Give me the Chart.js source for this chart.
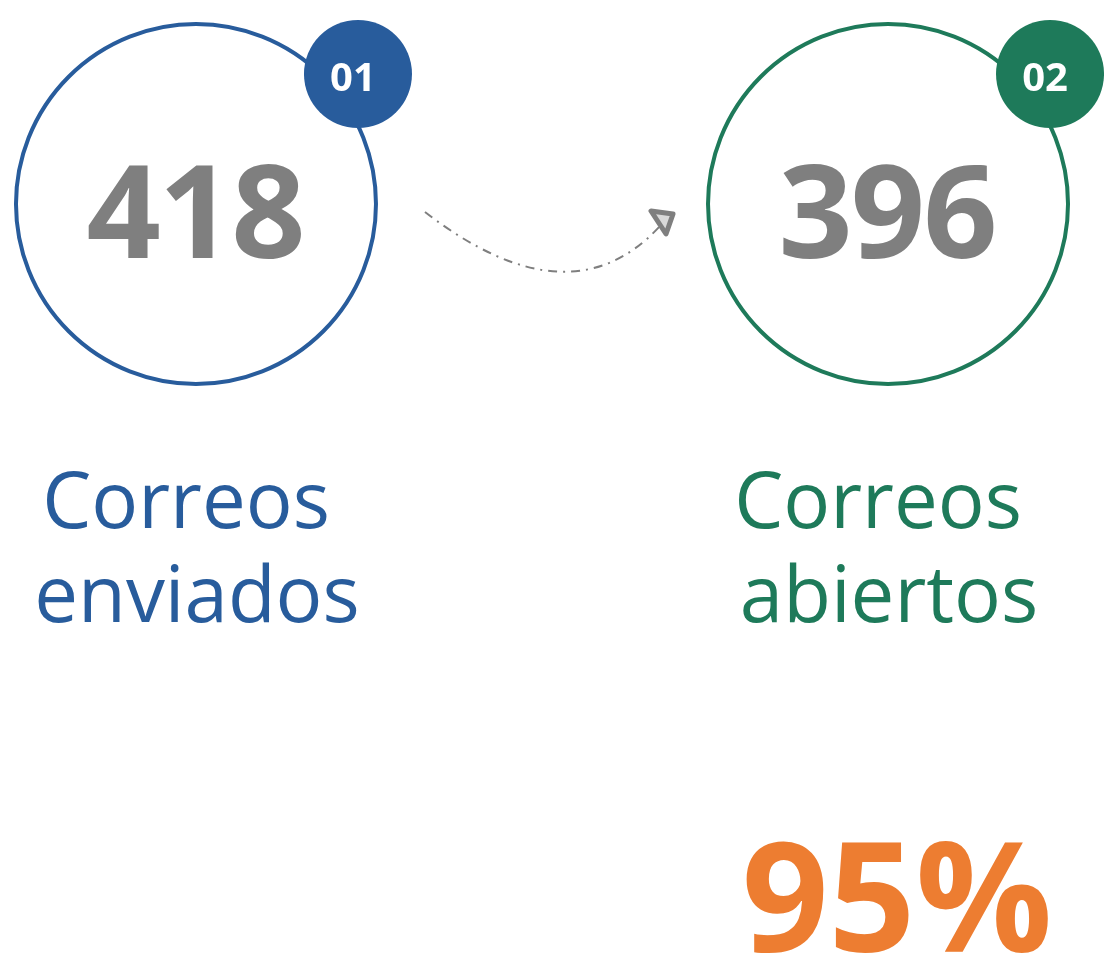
<!DOCTYPE html>
<html>
<head>
<meta charset="utf-8">
<script src="https://cdn.jsdelivr.net/npm/chart.js@4/dist/chart.umd.min.js"></script>
<style>
  html, body { margin: 0; padding: 0; background: #fff; }
  #wrap { width: 1104px; height: 964px; position: relative; }
</style>
</head>
<body>
<div id="wrap"><canvas id="emailChart"></canvas></div>
<script>
const categories = ["Correos enviados", "Correos abiertos"];
const labelLines = [["Correos", "enviados"], ["Correos", "abiertos"]];
const values = [418, 396];
const badges = ["01", "02"];
const openRate = 95;

const COLORS = ["#285c9c", "#1e7a5a"];
const GRAY = "#7f7f7f";
const ORANGE = "#ed7d31";

const CHART = document.getElementById("emailChart");

// draws the numbers, badges, labels, arrow and rate on top of the circles
const infoPlugin = {
    id: "infoPlugin",
    afterDatasetsDraw(chart) {
        const ctx = chart.ctx;
        const pts = chart.getDatasetMeta(0).data;
        ctx.save();

        // dash-dot arrow between the two circles
        const a = pts[0], b = pts[1];
        const x0 = a.x + 229, y0 = a.y + 8;
        const x2 = b.x - 228, y2 = b.y + 22;
        ctx.strokeStyle = GRAY;
        ctx.lineWidth = 2;
        ctx.setLineDash([9, 6, 2, 6]);
        ctx.beginPath();
        ctx.moveTo(x0, y0);
        ctx.quadraticCurveTo(a.x + 374, a.y + 120, x2, y2);
        ctx.stroke();
        ctx.setLineDash([]);
        ctx.beginPath();
        ctx.moveTo(b.x - 237, b.y + 7);
        ctx.lineTo(b.x - 215, b.y + 10);
        ctx.lineTo(b.x - 222, b.y + 30);
        ctx.closePath();
        ctx.fillStyle = "#d9d9d9";
        ctx.fill();
        ctx.lineWidth = 5;
        ctx.lineJoin = "round";
        ctx.stroke();

        pts.forEach((p, i) => {
            // big number
            ctx.fillStyle = GRAY;
            ctx.font = "bold 130px 'Open Sans'";
            ctx.textAlign = "center";
            ctx.textBaseline = "alphabetic";
            ctx.letterSpacing = "-2px";
            ctx.fillText(String(values[i]), p.x - 1, p.y + 54);
            ctx.letterSpacing = "0px";

            // badge
            ctx.beginPath();
            ctx.arc(p.x + 162, p.y - 130, 54, 0, Math.PI * 2);
            ctx.fillStyle = COLORS[i];
            ctx.fill();
            ctx.fillStyle = "#fff";
            ctx.font = "bold 40px 'Open Sans'";
            ctx.fillText(badges[i], p.x + 157, p.y - 113);

            // label under circle
            ctx.fillStyle = COLORS[i];
            ctx.font = "78px 'Open Sans'";
            ctx.fillText(labelLines[i][0], p.x - 10, p.y + 324);
            ctx.fillText(labelLines[i][1], p.x + 1, p.y + 418);
        });

        // open rate
        ctx.fillStyle = ORANGE;
        ctx.font = "bold 152px 'Open Sans'";
        ctx.textAlign = "center";
        ctx.fillText(openRate + "%", b.x + 9, 952);
        ctx.restore();
    }
};

let emailChart = new Chart(CHART, {
    type: "scatter",
    data: {
        labels: categories,
        datasets: [{
            label: "Correos",
            data: values.map((v, i) => ({ x: i, y: 0 })),
            pointRadius: 180,
            pointHoverRadius: 180,
            pointBorderWidth: 4,
            pointHoverBorderWidth: 4,
            pointBorderColor: COLORS,
            pointBackgroundColor: "#fff",
            clip: false
        }]
    },
    options: {
        responsive: true,
        maintainAspectRatio: false,
        animation: false,
        events: [],
        layout: { padding: 0, autoPadding: false },
        plugins: {
            legend: { display: false },
            tooltip: { enabled: false }
        },
        scales: {
            x: { type: "linear", display: false, min: -0.2832, max: 1.3121 },
            y: { type: "linear", display: false, min: -7.6, max: 2.04 }
        }
    },
    plugins: [infoPlugin]
});
</script>
</body>
</html>
